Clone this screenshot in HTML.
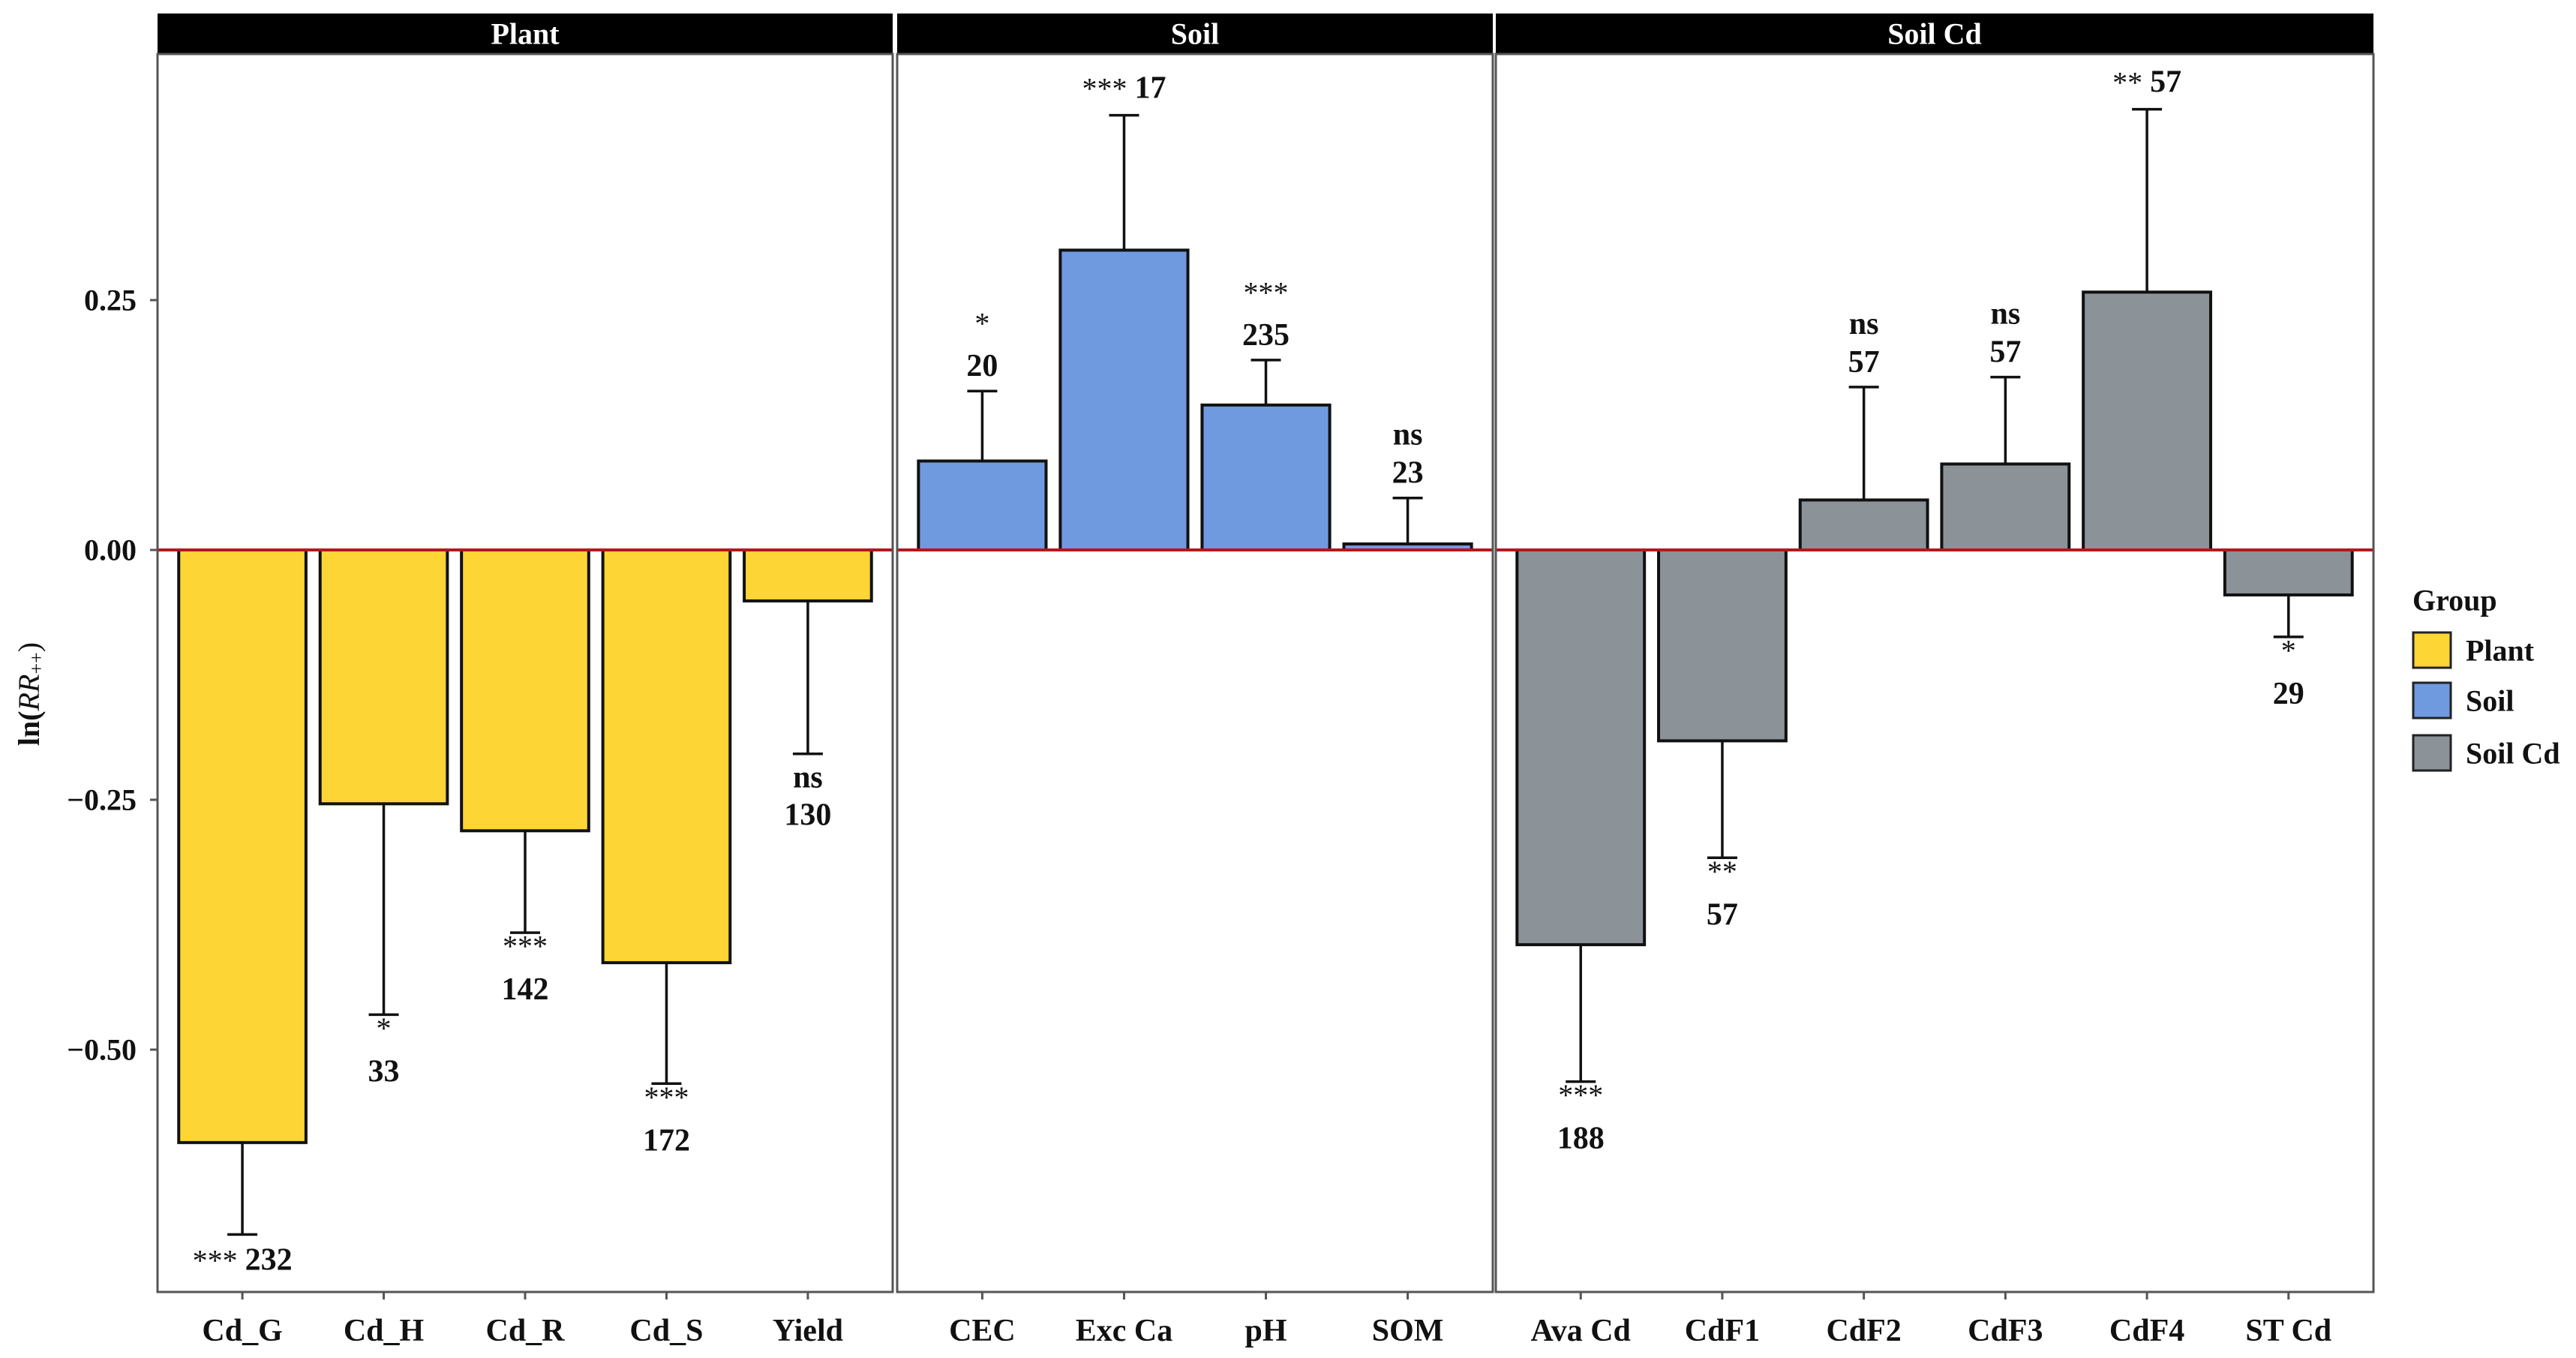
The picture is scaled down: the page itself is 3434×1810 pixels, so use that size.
<!DOCTYPE html>
<html><head><meta charset="utf-8"><style>
html,body{margin:0;padding:0;background:#fff;}
svg{display:block;font-family:"Liberation Serif",serif;font-weight:bold;}
</style></head><body>
<svg id="chart" width="3434" height="1810" viewBox="0 0 3434 1810" xmlns="http://www.w3.org/2000/svg">
<g id="g"></g>
</svg>
<script>
const plantCats=["Cd_G","Cd_H","Cd_R","Cd_S","Yield"];
const plantVals=[-0.593,-0.254,-0.281,-0.413,-0.051];
const plantErr=[-0.685,-0.465,-0.383,-0.534,-0.204];
const plantSig=["***","*","***","***","ns"];
const plantN=["232","33","142","172","130"];
const soilCats=["CEC","Exc Ca","pH","SOM"];
const soilVals=[0.089,0.300,0.145,0.006];
const soilErr=[0.159,0.435,0.190,0.052];
const soilSig=["*","***","***","ns"];
const soilN=["20","17","235","23"];
const cdCats=["Ava Cd","CdF1","CdF2","CdF3","CdF4","ST Cd"];
const cdVals=[-0.395,-0.191,0.050,0.086,0.258,-0.045];
const cdErr=[-0.532,-0.308,0.163,0.173,0.441,-0.087];
const cdSig=["***","**","ns","ns","**","*"];
const cdN=["188","57","57","57","57","29"];
const oneLine=["Cd_G","Exc Ca","CdF4"];
const yTicks=[0.25,0,-0.25,-0.5];
const yTickLabels=["0.25","0.00","\u22120.25","\u22120.50"];
const groupNames=["Plant","Soil","Soil Cd"];
const groupColors=["#FDD535","#6F9AE0","#8B9298"];

const NS="http://www.w3.org/2000/svg";
const g=document.getElementById('g');
const Y0=733, PX=1332, PT=72, PB=1722, ST=18;
function y(v){return Y0-PX*v;}
function mk(tag,attrs,parent){const e=document.createElementNS(NS,tag);for(const k in attrs)e.setAttribute(k,attrs[k]);(parent||g).appendChild(e);return e;}
function txt(s,x,yy,size,anchor,parent,weight){const t=mk('text',{x:x,y:yy,'font-size':size,'text-anchor':anchor||'middle','dominant-baseline':'central',fill:'#111'},parent);if(weight)t.setAttribute('font-weight',weight);t.textContent=s;return t;}

const panels=[
 {name:"Plant",x0:210,x1:1190,cats:plantCats,vals:plantVals,err:plantErr,sig:plantSig,n:plantN,col:0},
 {name:"Soil",x0:1196,x1:1990,cats:soilCats,vals:soilVals,err:soilErr,sig:soilSig,n:soilN,col:1},
 {name:"Soil Cd",x0:1994,x1:3164,cats:cdCats,vals:cdVals,err:cdErr,sig:cdSig,n:cdN,col:2}
];
panels.forEach((p,pi)=>{
  const pg=mk('g',{});
  
  
  const unit=(p.x1-p.x0)/(p.cats.length+0.2);
  const xc=i=>p.x0+unit*(0.6+i);
  const strip=mk('rect',{x:p.x0,y:ST,width:p.x1-p.x0,height:PT-ST,fill:'#000'},pg);
  
  
  const st=txt(p.name,(p.x0+p.x1)/2,45,40,'middle',pg);
  st.setAttribute('fill','#fff');
  
  
  p.cats.forEach((c,i)=>{
    const v=p.vals[i], e=p.err[i], cx=xc(i), w=unit*0.9;
    const eg=mk('g',{stroke:'#111','stroke-width':3.5},pg);
    
    
    mk('line',{x1:cx,x2:cx,y1:y(v),y2:y(e)},eg);
    mk('line',{x1:cx-20,x2:cx+20,y1:y(e),y2:y(e)},eg);
    const b=mk('rect',{x:cx-w/2,y:Math.min(y(v),y(0)),width:w,height:Math.abs(y(v)-y(0)),fill:groupColors[p.col],stroke:'#111','stroke-width':4},pg);
    
    
    const up=e>=0, ey=y(e), isNs=p.sig[i]==='ns';
    if(oneLine.indexOf(c)>=0){
      const t=mk('text',{x:cx,y:ey+(up?-36:34),'font-size':42,'text-anchor':'middle','dominant-baseline':'central',fill:'#111'},pg);
      
      
      const s1=mk('tspan',{'font-weight':'normal','font-size':40},t);s1.textContent=p.sig[i]+' ';
      const s2=mk('tspan',{},t);s2.textContent=p.n[i];
    } else {
      const sy=up?(isNs?-84:-90):(isNs?32:18);
      const ny=up?-33:(isNs?82:76);
      const sigT=txt(p.sig[i],cx,ey+sy,isNs?42:40,'middle',pg,isNs?'bold':'normal');
      
      
      const nT=txt(p.n[i],cx,ey+ny,42,'middle',pg);
      
      
    }
    const tk=mk('line',{x1:cx,x2:cx,y1:PB,y2:PB+10,stroke:'#555','stroke-width':3},pg);
    
    
    const xl=txt(c,cx,1774,42,'middle',pg);
    
    
  });
  const zl=mk('line',{x1:p.x0,x2:p.x1,y1:y(0),y2:y(0),stroke:'#B5171C','stroke-width':4},pg);
  
  
  const bd=mk('rect',{x:p.x0,y:PT,width:p.x1-p.x0,height:PB-PT,fill:'none',stroke:'#555','stroke-width':3},pg);
  
  
});
yTicks.forEach((v,i)=>{
  const tl=mk('line',{x1:200,x2:210,y1:y(v),y2:y(v),stroke:'#555','stroke-width':3});
  
  
  const t=txt(yTickLabels[i],182,y(v),40,'end');
  
  
});
const yt=mk('text',{x:0,y:0,'font-size':40,'text-anchor':'middle','dominant-baseline':'central',fill:'#111',transform:'translate(38,925) rotate(-90)'});


const a=mk('tspan',{},yt);a.textContent='ln(';
const b=mk('tspan',{'font-style':'italic','font-weight':'normal'},yt);b.textContent='RR';
const c2=mk('tspan',{'font-size':26,'font-weight':'normal',dy:10},yt);c2.textContent='++';
const d=mk('tspan',{dy:-10,'font-weight':'normal'},yt);d.textContent=')';
const lg=mk('g',{});


const lt=txt('Group',3216,800,40,'start',lg);


const ky=[843,910,980];
groupNames.forEach((n,i)=>{
  const r=mk('rect',{x:3217,y:ky[i],width:50,height:47,fill:groupColors[i],stroke:'#222','stroke-width':3},lg);
  
  
  const t=txt(n,3287,ky[i]+24,40,'start',lg);
  
  
});
</script>
</body></html>
